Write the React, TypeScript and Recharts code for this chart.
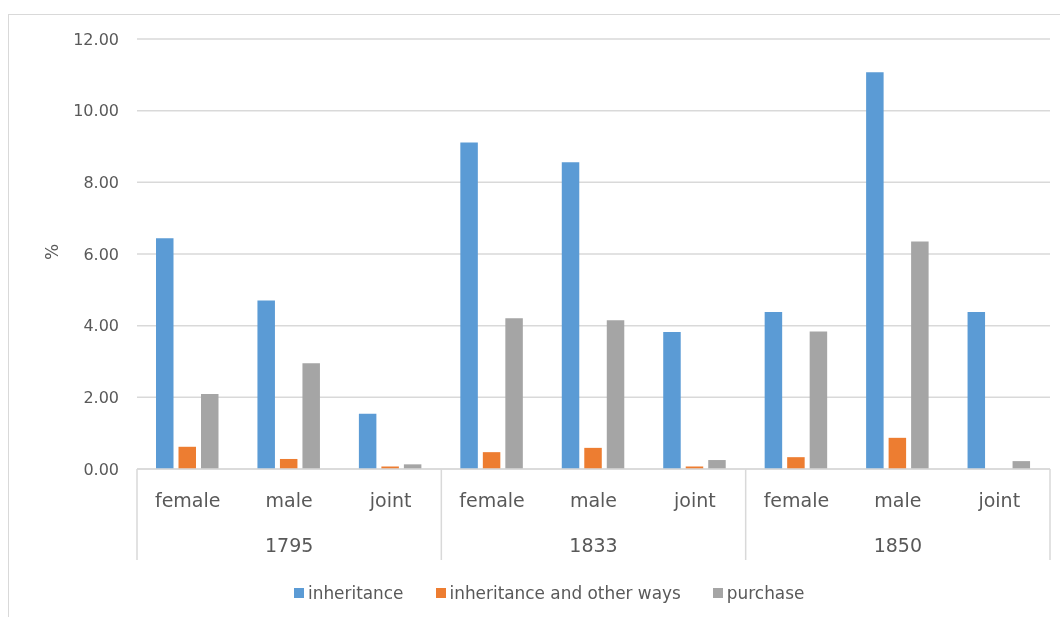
import React from 'react';
import { BarChart, Bar, XAxis, YAxis, CartesianGrid, Legend } from 'recharts';

const sexes = ['female', 'male', 'joint', 'female', 'male', 'joint', 'female', 'male', 'joint'];
const years = ['1795', '1795', '1795', '1833', '1833', '1833', '1850', '1850', '1850'];
const inheritance = [6.44, 4.7, 1.54, 9.11, 8.56, 3.82, 4.38, 11.07, 4.38];
const inheritanceOther = [0.62, 0.28, 0.07, 0.47, 0.59, 0.07, 0.33, 0.87, 0];
const purchase = [2.09, 2.95, 0.13, 4.21, 4.15, 0.25, 3.84, 6.35, 0.22];
const yTicks = [0, 2, 4, 6, 8, 10, 12];

const seriesNames = ['inheritance', 'inheritance and other ways', 'purchase'];
const seriesColors = ['#5b9bd5', '#ed7d31', '#a5a5a5'];

const data = sexes.map((s, i) => ({
  sex: s,
  year: years[i],
  inheritance: inheritance[i],
  other: inheritanceOther[i],
  purchase: purchase[i],
}));

const FONT = '"DejaVu Sans", sans-serif';
const TEXT = '#595959';
const GRID = '#d9d9d9';

const CatTick = (props: any) => {
  const { x, y, payload } = props;
  const index = props.index ?? payload.index;
  const half = payload.offset ?? 0;
  const isFirst = index === 0 || years[index] !== years[index - 1];
  const isLast = index === data.length - 1;
  const isMid = index > 0 && index < data.length - 1 && years[index - 1] === years[index] && years[index + 1] === years[index];
  return (
    <g>
      <text x={x} y={y + 38} textAnchor="middle" fill={TEXT} fontSize={19} fontFamily={FONT}>
        {payload.value}
      </text>
      {isMid && (
        <text x={x} y={y + 83} textAnchor="middle" fill={TEXT} fontSize={19} fontFamily={FONT}>
          {years[index]}
        </text>
      )}
      {isFirst && <line x1={x - half} x2={x - half} y1={y} y2={y + 91} stroke={GRID} strokeWidth={1.5} />}
      {isLast && <line x1={x + half} x2={x + half} y1={y} y2={y + 91} stroke={GRID} strokeWidth={1.5} />}
    </g>
  );
};

const LegendContent = () => (
  <div style={{ height: 43, paddingTop: 19, boxSizing: 'border-box', display: 'flex', paddingLeft: 286, fontFamily: FONT, fontSize: 16.9, color: TEXT, lineHeight: '18px' }}>
    {seriesNames.map((n, i) => (
      <div key={n} style={{ display: 'flex', alignItems: 'center', marginRight: 32 }}>
        <span style={{ display: 'inline-block', width: 10, height: 10, background: seriesColors[i], marginRight: 4 }} />
        <span>{n}</span>
      </div>
    ))}
  </div>
);

const PercentLabel = (props: any) => {
  const vb = props.viewBox || {};
  const cx = vb.x + 15;
  const cy = vb.y + vb.height / 2 - 2;
  return (
    <text x={cx} y={cy} transform={`rotate(-90, ${cx}, ${cy})`} textAnchor="middle" dominantBaseline="central" fill={TEXT} fontSize={17} fontFamily={FONT}>
      %
    </text>
  );
};

export default function App() {
  return (
    <div style={{ marginTop: 7, position: 'relative' }}>
      <div style={{ position: 'fixed', left: 8, top: 14, width: 1200, height: 800, borderTop: `1px solid ${GRID}`, borderLeft: `1px solid ${GRID}`, pointerEvents: 'none' }} />
      <BarChart
        width={1044}
        height={590}
        data={data}
        margin={{ top: 24, right: 2, left: 29, bottom: 0 }}
        barSize={17.5}
        barGap={5}
      >
        <CartesianGrid vertical={false} stroke={GRID} strokeWidth={1.5} />
        <XAxis
          dataKey="sex"
          interval={0}
          height={93}
          axisLine={{ stroke: GRID, strokeWidth: 1.5 }}
          tickLine={false}
          tickSize={0}
          tickMargin={0}
          tick={<CatTick />}
        />
        <YAxis
          width={100}
          domain={[0, 12]}
          ticks={yTicks}
          tickFormatter={(v: number) => v.toFixed(2)}
          axisLine={false}
          tickLine={false}
          tickSize={0}
          tickMargin={18}
          tick={{ fill: TEXT, fontSize: 16, fontFamily: FONT }}
          label={<PercentLabel />}
        />
        <Legend verticalAlign="bottom" content={<LegendContent />} wrapperStyle={{ left: 0, width: 1044 }} />
        <Bar dataKey="inheritance" name={seriesNames[0]} fill={seriesColors[0]} isAnimationActive={false} />
        <Bar dataKey="other" name={seriesNames[1]} fill={seriesColors[1]} isAnimationActive={false} />
        <Bar dataKey="purchase" name={seriesNames[2]} fill={seriesColors[2]} isAnimationActive={false} />
      </BarChart>
    </div>
  );
}
